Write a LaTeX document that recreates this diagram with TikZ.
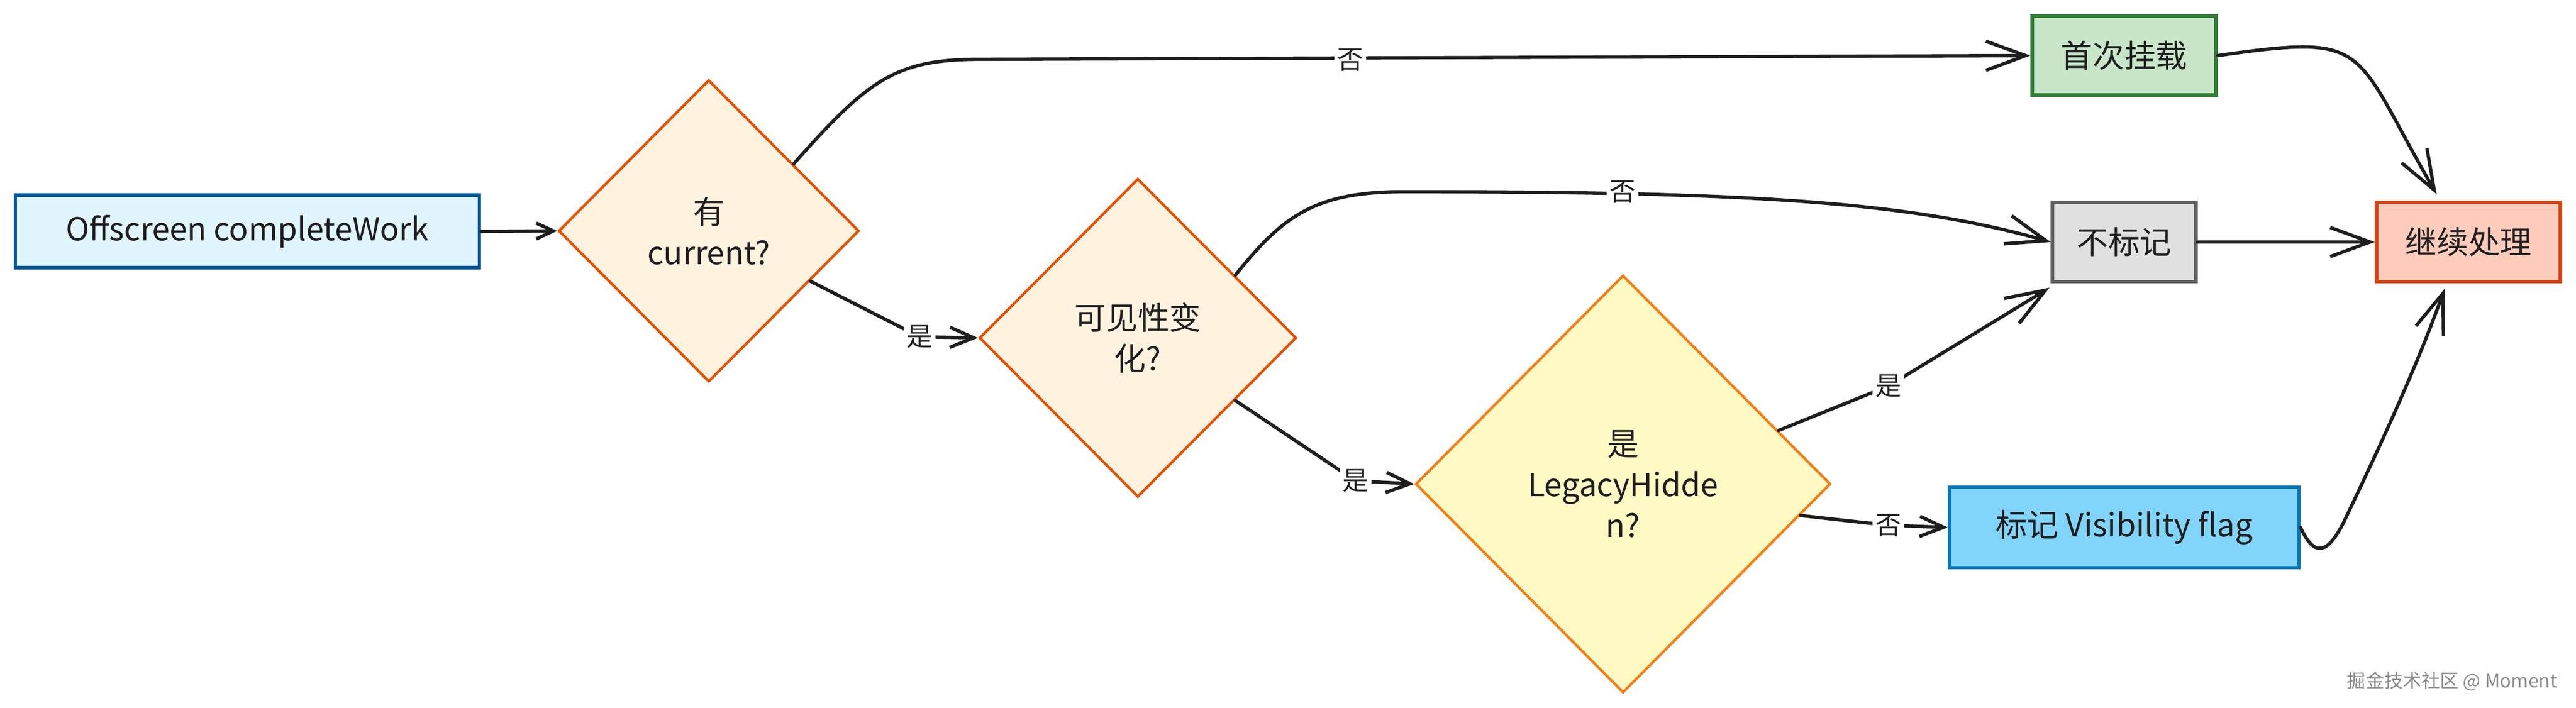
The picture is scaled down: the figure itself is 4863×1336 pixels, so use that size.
\documentclass[tikz,border=0pt]{standalone}
\usepackage{fontspec}
\setmainfont{Noto Sans CJK SC}
\usetikzlibrary{shapes.geometric,arrows.meta,calc}
\definecolor{ink}{HTML}{1E1E1E}
\definecolor{offfill}{HTML}{E1F5FE}
\definecolor{offdraw}{HTML}{01579B}
\definecolor{qfill}{HTML}{FFF3E0}
\definecolor{qdraw}{HTML}{E65100}
\definecolor{yfill}{HTML}{FFF9C4}
\definecolor{ydraw}{HTML}{F57F17}
\definecolor{gfill}{HTML}{C8E6C9}
\definecolor{gdraw}{HTML}{2E7D32}
\definecolor{nfill}{HTML}{E0E0E0}
\definecolor{ndraw}{HTML}{616161}
\definecolor{rfill}{HTML}{FFCCBC}
\definecolor{rdraw}{HTML}{D84315}
\definecolor{bfill}{HTML}{81D4FA}
\definecolor{bdraw}{HTML}{0277BD}
\begin{document}
\begin{tikzpicture}[x=0.01cm,y=-0.01cm,
  txt/.style={font=\fontsize{17}{22}\selectfont, text=ink},
  box/.style={txt, rectangle, draw, line width=1.8pt, inner sep=0pt, align=center},
  dia/.style={txt, diamond, draw, line width=1.4pt, inner sep=0pt, align=center},
  lbl/.style={font=\fontsize{14}{16}\selectfont, text=ink, fill=white, inner sep=1.5pt},
  con/.style={draw=ink, line width=1.8pt, line cap=round, line join=round},
  arrL/.style={con, -{Straight Barb[length=0.75cm,width=0.55cm,line width=1.8pt]}},
  arrM/.style={con, -{Straight Barb[length=0.45cm,width=0.38cm,line width=1.8pt]}},
  arrS/.style={con, -{Straight Barb[length=0.32cm,width=0.3cm,line width=1.8pt]}}
]
\useasboundingbox (0,0) rectangle (4863,1336);

% nodes
\node[box, fill=offfill, draw=offdraw, minimum width=8.76cm, minimum height=1.37cm] (off) at (467,437) {Offscreen completeWork};
\node[dia, fill=qfill, draw=qdraw, minimum width=5.67cm, minimum height=5.70cm] (d1) at (1338,436) {有\\current?};
\node[dia, fill=qfill, draw=qdraw, minimum width=5.98cm, minimum height=6.01cm] (d2) at (2148,638) {可见性变\\化?};
\node[dia, fill=yfill, draw=ydraw, minimum width=7.83cm, minimum height=7.88cm] (d3) at (3064,914) {是\\LegacyHidde\\n?};
\node[box, fill=gfill, draw=gdraw, minimum width=3.47cm, minimum height=1.49cm] (mount) at (4010,105) {首次挂载};
\node[box, fill=nfill, draw=ndraw, minimum width=2.71cm, minimum height=1.50cm] (nomark) at (4010,457) {不标记};
\node[box, fill=rfill, draw=rdraw, minimum width=3.47cm, minimum height=1.50cm] (cont) at (4660,457) {继续处理};
\node[box, fill=bfill, draw=bdraw, minimum width=6.59cm, minimum height=1.52cm] (vis) at (4010,996) {标记 Visibility flag};

% connection points
\coordinate (d1ne) at ($(d1.east)!0.44!(d1.north)$);
\coordinate (d1se) at ($(d1.east)!0.33!(d1.south)$);
\coordinate (d2ne) at ($(d2.north)!0.61!(d2.east)$);
\coordinate (d2se) at ($(d2.east)!0.39!(d2.south)$);
\coordinate (d3ne) at ($(d3.north)!0.745!(d3.east)$);
\coordinate (d3se) at ($(d3.east)!0.15!(d3.south)$);
\coordinate (contN) at ([xshift=-0.6cm,yshift=0.12cm]cont.north);
\coordinate (contS) at ([xshift=-0.45cm,yshift=-0.1cm]cont.south);
\coordinate (nomSW) at ([xshift=-0.02cm,yshift=-0.08cm]nomark.south west);

% connectors
\draw[arrS] (off.east) -- (d1.west);

\draw[arrL] (d1ne) .. controls (1640,150) and (1690,112) .. (1850,112) -- (mount.west);
\node[lbl] (l1) at (2549,113) {否};

\draw[arrM] (d1se) -- (1736,636) -- (d2.west);
\node[lbl] (l2) at (1736,636) {是};

\draw[arrL] (d2ne) .. controls (2420,410) and (2480,362) .. (2650,362) .. controls (3300,362) and (3600,380) .. (nomark.west);
\node[lbl] (l3) at (3063,362) {否};

\draw[arrM] (d2se) -- (2559,908) -- (d3.west);
\node[lbl] (l4) at (2559,908) {是};

\draw[arrL] (d3ne) -- (3565,729) -- (nomSW);
\node[lbl] (l5) at (3565,729) {是};

\draw[arrM] (d3se) -- (3565,992) -- (vis.west);
\node[lbl] (l6) at (3565,992) {否};

\draw[arrL] (mount.east) .. controls (4480,63) and (4438,87) .. (contN);
\draw[arrL] (nomark.east) -- (cont.west);
\draw[arrL] (vis.east) .. controls (4370,1055) and (4395,1045) .. (4425,985) .. controls (4480,870) and (4560,700) .. (contS);

% watermark
\node[font=\fontsize{10}{12}\selectfont, text=black!45, anchor=east] (wm) at (4840,1287) {掘金技术社区 @ Moment};
\end{tikzpicture}
\end{document}
